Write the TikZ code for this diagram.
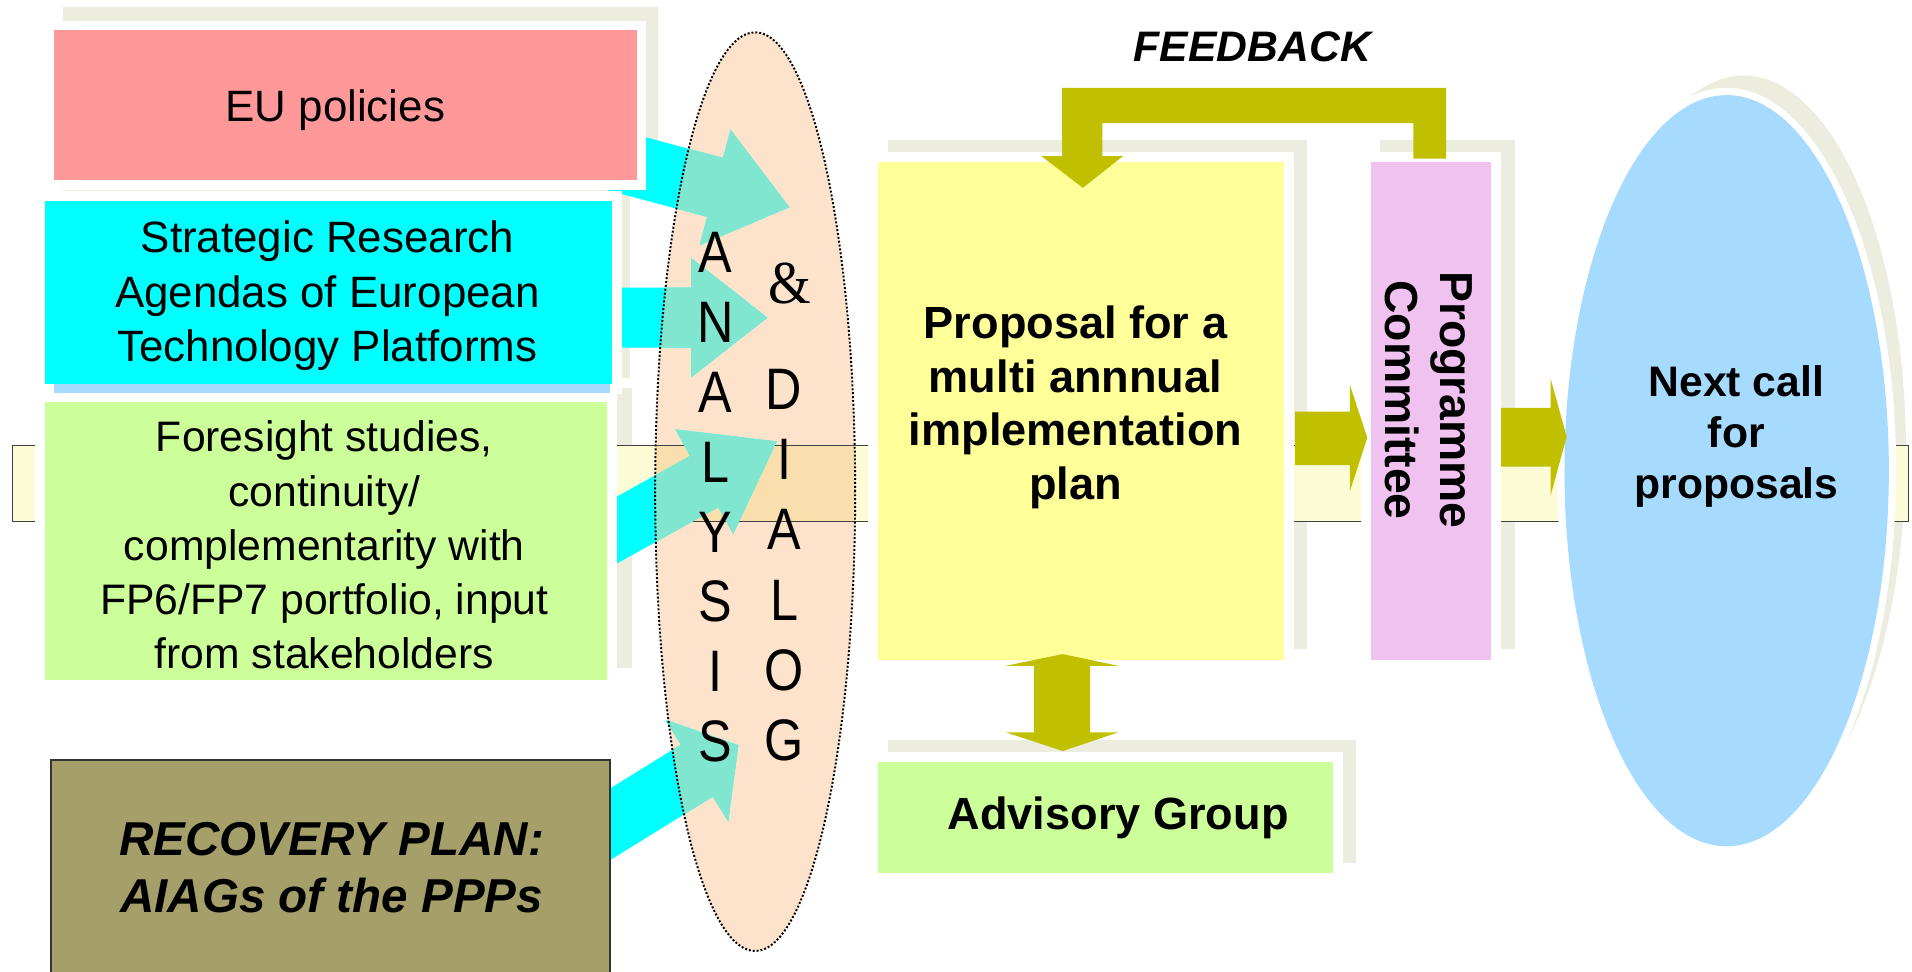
\documentclass[tikz,border=0pt]{standalone}
\usepackage{fontspec}
\setmainfont{Liberation Sans}
\newfontfamily\ampfont[FakeStretch=0.9]{Liberation Serif}
\newfontfamily\letterfont[FakeStretch=0.86]{Liberation Sans}
\usetikzlibrary{calc,shapes.geometric}
\definecolor{pinkc}{HTML}{FF9999}
\definecolor{cyanc}{HTML}{00FFFF}
\definecolor{stripc}{HTML}{A6DAFF}
\definecolor{greenc}{HTML}{CCFF99}
\definecolor{olivebox}{HTML}{A5A06A}
\definecolor{peachc}{HTML}{FDE3CC}
\definecolor{tealc}{HTML}{80E6D0}
\definecolor{yellowc}{HTML}{FFFF99}
\definecolor{lilacc}{HTML}{F0C2F0}
\definecolor{olivearr}{HTML}{C0C000}
\definecolor{bluec}{HTML}{A6DBFF}
\definecolor{bandc}{HTML}{FBFCD6}
\definecolor{bandmix}{HTML}{F9DFAD}
\definecolor{shadc}{HTML}{ECECDF}
\newcommand{\blkarrow}[6]{%
  \coordinate (ba) at ($(#3)!#6!(#2)$);
  \fill[#1] ($(#2)!#4!90:(#3)$) -- ($(ba)!#4!-90:(#2)$) -- ($(ba)!#5!-90:(#2)$) -- (#3)
     -- ($(ba)!#5!90:(#2)$) -- ($(ba)!#4!90:(#2)$) -- ($(#2)!#4!-90:(#3)$) -- cycle;}
\newcommand{\anaclip}{\clip (ana) ellipse [x radius=82pt, y radius=376.7pt];}
\tikzset{
  box/.style={rectangle, inner sep=0pt, draw=white, line width=8pt},
  regtxt/.style={align=center, inner sep=0pt, font=\fontsize{36}{44.5}\selectfont},
  boldtxt/.style={align=center, inner sep=0pt, font=\fontsize{37}{44}\selectfont\bfseries},
  letter/.style={inner sep=0pt, font=\fontsize{48}{48}\selectfont\letterfont},
  shadow/.style={fill=shadc},
  cyanarrow/.style={fill=cyanc},
  tealarrow/.style={fill=tealc},
  olivearrow/.style={fill=olivearr}
}
\begin{document}
\begin{tikzpicture}[x=1pt,y=-1pt]
\useasboundingbox (0,0) rectangle (1568,797);
% shadows
\fill[shadow] (52,6) rectangle (540,146);
\fill[shadow] (52,151) rectangle (517,310);
\fill[shadow] (52,318) rectangle (518,548);
\fill[shadow] (728,115) rectangle (1072,532);
\fill[shadow] (1132,115) rectangle (1242,532);
\fill[shadow] (728,607) rectangle (1112,708);
\fill[shadow] (1430,370) ellipse [x radius=133pt, y radius=308pt];
% band
\draw[fill=bandc, draw=black!75, line width=0.8pt] (10,365) rectangle (1565,428);
% analysis ellipse
\coordinate (ana) at (619.3,403.2);
\fill[peachc] (ana) ellipse [x radius=82pt, y radius=376.7pt];
\begin{scope}
  \anaclip
  \draw[fill=bandmix, draw=black!75, line width=0.8pt] (10,365) rectangle (1565,428);
\end{scope}
% cyan arrows
\coordinate (a1) at (470,122.5); \coordinate (b1) at (647.3,170);
\coordinate (a2) at (480,260.5); \coordinate (b2) at (629.3,260.5);
\coordinate (a3) at (480,449);   \coordinate (b3) at (637,362);
\coordinate (a4) at (480,688.5); \coordinate (b4) at (605.5,611);
\blkarrow{cyanarrow}{a1}{b1}{25pt}{49pt}{63pt}
\blkarrow{cyanarrow}{a2}{b2}{24.6pt}{49pt}{62.6pt}
\blkarrow{cyanarrow}{a3}{b3}{24pt}{49pt}{68pt}
\blkarrow{cyanarrow}{a4}{b4}{25pt}{49pt}{40pt}
\begin{scope}
  \anaclip
  \blkarrow{tealarrow}{a1}{b1}{25pt}{49pt}{63pt}
  \blkarrow{tealarrow}{a2}{b2}{24.6pt}{49pt}{62.6pt}
  \blkarrow{tealarrow}{a3}{b3}{24pt}{49pt}{68pt}
  \blkarrow{tealarrow}{a4}{b4}{25pt}{49pt}{40pt}
\end{scope}
\draw[black, line width=1.6pt, dash pattern=on 1.6pt off 1.6pt] (ana) ellipse [x radius=82pt, y radius=376.7pt];
% letters
\foreach \ch/\yy [count=\i] in {A/207,N/264.3,A/321.6,L/378.9,Y/436.2,S/493.5,I/550.8,S/608.1}
  \node[letter] (an\i) at (586.5,\yy) {\ch};
\node[letter, font=\fontsize{50}{50}\selectfont\ampfont] (amp) at (647.9,232.3) {\&};
\foreach \ch/\yy [count=\i] in {D/319.5,I/377,A/434.5,L/492,O/549.5,G/607}
  \node[letter] (di\i) at (643,\yy) {\ch};
% left boxes
\node[box, fill=pinkc, minimum width=486pt, minimum height=131pt] (eu) at (283,86.5) {};
\node[regtxt] (eutxt) at (275,90) {EU policies};
\node[box, fill=cyanc, minimum width=473pt, minimum height=158pt] (sra) at (269.5,240) {};
\fill[stripc] (44,315) rectangle (500,322);
\node[regtxt] (sratxt) at (268.5,242.5) {Strategic Research\\Agendas of European\\Technology Platforms};
\node[box, fill=greenc, minimum width=469pt, minimum height=236pt] (fore) at (267.5,444) {};
\node[regtxt, font=\fontsize{35}{44.5}\selectfont] (foretxt) at (266,447) {Foresight studies,\\continuity/\\complementarity with\\FP6/FP7 portfolio, input\\from stakeholders};
\node[rectangle, inner sep=0pt, fill=olivebox, draw=black!80, line width=1.5pt, minimum width=458pt, minimum height=177pt] (rec) at (271,711.5) {};
\node[align=center, inner sep=0pt, font=\fontsize{39}{47}\selectfont\bfseries\itshape] (rectxt) at (272,711.5) {RECOVERY PLAN:\\AIAGs of the PPPs};
% right boxes
\node[box, fill=yellowc, minimum width=341pt, minimum height=416pt] (prop) at (886.5,337) {};
\node[boldtxt] (proptxt) at (882,334) {Proposal for a\\multi annnual\\implementation\\plan};
\node[box, fill=lilacc, minimum width=107pt, minimum height=416pt] (pc) at (1173.5,337) {};
\node[boldtxt, rotate=-90, font=\fontsize{38}{45}\selectfont\bfseries] (pctxt) at (1172,328) {Programme\\Committee};
\node[box, fill=greenc, minimum width=381pt, minimum height=99pt] (adv) at (906.5,670.5) {};
\node[boldtxt] (advtxt) at (917,671) {Advisory Group};
\fill[white] (1416,386) ellipse [x radius=139pt, y radius=314pt];
\node[ellipse, fill=bluec, inner sep=0pt, minimum width=266pt, minimum height=616pt] (next) at (1416,386) {};
\node[boldtxt, font=\fontsize{35}{41.5}\selectfont\bfseries] (nexttxt) at (1424,358) {Next call\\for\\proposals};
% olive arrows
\fill[olivearrow] (1062,337.5) -- (1107,337.5) -- (1107,315.7) -- (1121.3,359) -- (1107,402.7) -- (1107,381.4) -- (1062,381.4) -- cycle;
\fill[olivearrow] (1231,334.5) -- (1271.7,334.5) -- (1271.7,310.8) -- (1284.8,358.1) -- (1271.7,406) -- (1271.7,382.7) -- (1231,382.7) -- cycle;
\fill[olivearrow] (848,546) -- (825,546) -- (871.5,536.4) -- (917,546) -- (894,546) -- (894,600.6) -- (917,600.6) -- (871.5,615.9) -- (825,600.6) -- (848,600.6) -- cycle;
\fill[olivearrow] (871,128) -- (871,72) -- (1186,72) -- (1186,130) -- (1159,130) -- (1159,101) -- (904,101) -- (904,128) -- (921,128) -- (888,154) -- (854,128) -- cycle;
\node[inner sep=0pt, font=\fontsize{35}{35}\selectfont\bfseries\itshape] (fb) at (1027,38) {FEEDBACK};
\end{tikzpicture}
\end{document}
